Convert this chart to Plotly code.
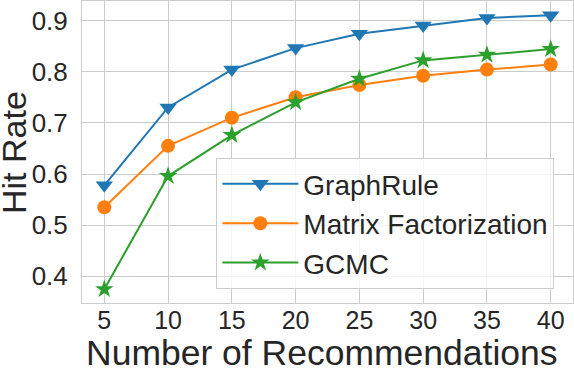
import plotly.graph_objects as go

k_values = [5, 10, 15, 20, 25, 30, 35, 40]
graphrule = [0.578, 0.730, 0.804, 0.846, 0.874, 0.890, 0.905, 0.910]
matrix_fact = [0.535, 0.655, 0.710, 0.750, 0.774, 0.792, 0.804, 0.814]
gcmc = [0.375, 0.596, 0.676, 0.740, 0.786, 0.822, 0.833, 0.844]

series = [
    ("GraphRule", graphrule, "#1f77b4", "triangle-down", 15),
    ("Matrix Factorization", matrix_fact, "#ff7f0e", "circle", 14),
    ("GCMC", gcmc, "#2ca02c", "star", 14),
]

fig = go.Figure()
for name, vals, color, symbol, size in series:
    fig.add_trace(go.Scatter(
        x=k_values, y=vals, name=name, mode="lines+markers",
        line=dict(color=color, width=2),
        marker=dict(symbol=symbol, size=size, color=color, line=dict(width=0)),
    ))

font_color = "#262626"
fig.update_layout(
    width=574, height=368,
    margin=dict(l=82, r=1, t=1, b=65),
    paper_bgcolor="white", plot_bgcolor="white",
    font=dict(family="Liberation Sans, Arial, sans-serif", color=font_color),
    legend=dict(
        x=0.962, y=0.046, xanchor="right", yanchor="bottom",
        font=dict(size=28, color=font_color),
        bgcolor="rgba(255,255,255,0.8)", bordercolor="#cccccc", borderwidth=1,
        tracegroupgap=4, itemwidth=76,
    ),
)
fig.update_xaxes(
    range=[3.25, 41.75], tickvals=k_values, tickfont=dict(size=25),
    ticklabelstandoff=-5,
    showgrid=True, gridcolor="#cccccc", gridwidth=1,
    showline=True, linecolor="#cccccc", linewidth=1, mirror=True,
    zeroline=False, ticks="", automargin=False,
)
fig.update_yaxes(
    range=[0.348, 0.938], tickvals=[0.4, 0.5, 0.6, 0.7, 0.8, 0.9],
    ticktext=["0.4", "0.5", "0.6", "0.7", "0.8", "0.9"], tickfont=dict(size=26),
    ticklabelstandoff=8,
    showgrid=True, gridcolor="#cccccc", gridwidth=1,
    showline=True, linecolor="#cccccc", linewidth=1, mirror=True,
    zeroline=False, ticks="", automargin=False,
)

# axis titles as paper-anchored text for exact placement
fig.add_annotation(text="Number of Recommendations", xref="paper", yref="paper",
                   x=0.489, y=-0.166, xanchor="center", yanchor="middle",
                   showarrow=False, font=dict(size=35.5, color=font_color))
fig.add_annotation(text="Hit Rate", xref="paper", yref="paper", textangle=-90,
                   x=-0.1385, y=0.5, xanchor="center", yanchor="middle",
                   showarrow=False, font=dict(size=34, color=font_color))

# drop the default page margin so the figure starts at the window corner
fig.write_html("out.html", config={"displayModeBar": False},
               post_script="document.body.style.margin='0';")
